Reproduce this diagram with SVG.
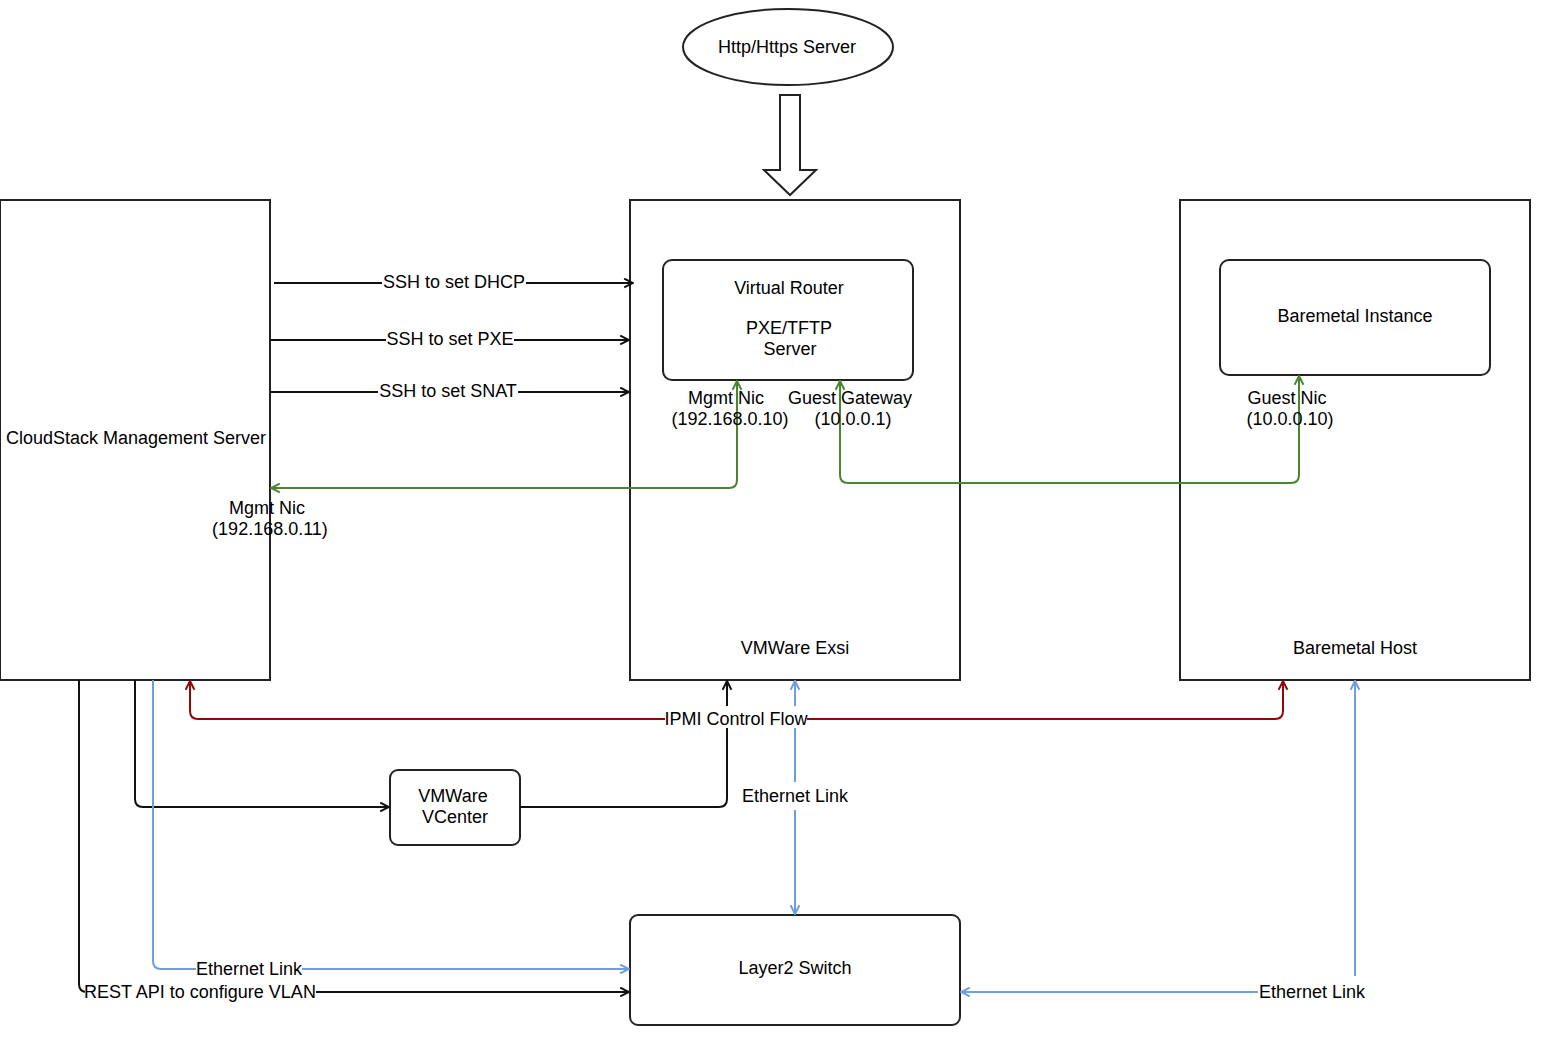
<svg xmlns="http://www.w3.org/2000/svg" width="1550" height="1045" viewBox="0 0 1550 1045">
<style>
text{font-family:"Liberation Sans",Arial,sans-serif;font-size:18px;fill:#000;text-anchor:middle}
.box{fill:#fff;stroke:#222;stroke-width:2}
.k{fill:none;stroke:#111;stroke-width:2}
.g{fill:none;stroke:#4A8531;stroke-width:2}
.r{fill:none;stroke:#8E0A0A;stroke-width:2}
.b{fill:none;stroke:#6E9EE0;stroke-width:2}
.lbl{fill:#fff}
</style>
<defs>
<marker id="ak" viewBox="0 0 10 10" refX="9" refY="5" markerWidth="11" markerHeight="11" markerUnits="userSpaceOnUse" orient="auto-start-reverse"><path d="M1,1 L9,5 L1,9" fill="none" stroke="#111" stroke-width="1.8"/></marker>
<marker id="ag" viewBox="0 0 10 10" refX="9" refY="5" markerWidth="11" markerHeight="11" markerUnits="userSpaceOnUse" orient="auto-start-reverse"><path d="M1,1 L9,5 L1,9" fill="none" stroke="#4A8531" stroke-width="1.8"/></marker>
<marker id="ar" viewBox="0 0 10 10" refX="9" refY="5" markerWidth="11" markerHeight="11" markerUnits="userSpaceOnUse" orient="auto-start-reverse"><path d="M1,1 L9,5 L1,9" fill="none" stroke="#8E0A0A" stroke-width="1.8"/></marker>
<marker id="ab" viewBox="0 0 10 10" refX="9" refY="5" markerWidth="11" markerHeight="11" markerUnits="userSpaceOnUse" orient="auto-start-reverse"><path d="M1,1 L9,5 L1,9" fill="none" stroke="#6E9EE0" stroke-width="1.8"/></marker>
</defs>
<rect width="1550" height="1045" fill="#fff"/>

<g id="http-server">
<ellipse cx="788" cy="47" rx="105" ry="38" class="box"/>
<text x="787" y="53">Http/Https Server</text>
</g>
<g id="block-arrow">
<path d="M780,95 L800,95 L800,170 L816,170 L790,195 L764,170 L780,170 Z" class="box"/>
</g>

<g id="mgmt-server">
<rect x="0" y="200" width="270" height="480" class="box"/>
<text x="136" y="444">CloudStack Management Server</text>
</g>

<g id="vmware-esxi">
<rect x="630" y="200" width="330" height="480" class="box"/>
<text x="795" y="654">VMWare Exsi</text>
</g>

<g id="virtual-router">
<rect x="663" y="260" width="250" height="120" rx="9" class="box"/>
<text x="789" y="294">Virtual Router</text>
<text x="789" y="334">PXE/TFTP</text>
<text x="790" y="355">Server</text>
</g>

<g id="baremetal-host">
<rect x="1180" y="200" width="350" height="480" class="box"/>
<text x="1355" y="654">Baremetal Host</text>
</g>

<g id="baremetal-instance">
<rect x="1220" y="260" width="270" height="115" rx="9" class="box"/>
<text x="1355" y="322">Baremetal Instance</text>
</g>

<g id="vcenter">
<rect x="390" y="770" width="130" height="75" rx="8" class="box"/>
<text x="453" y="802">VMWare</text>
<text x="455" y="823">VCenter</text>
</g>

<g id="layer2-switch">
<rect x="630" y="915" width="330" height="110" rx="8" class="box"/>
<text x="795" y="974">Layer2 Switch</text>
</g>

<g id="connectors">
<path d="M274,283 L633,283" class="k" marker-end="url(#ak)"/>
<path d="M270,340 L629,340" class="k" marker-end="url(#ak)"/>
<path d="M270,392 L629,392" class="k" marker-end="url(#ak)"/>

<path d="M737,381 L737,480 Q737,488 729,488 L271,488" class="g" marker-start="url(#ag)" marker-end="url(#ag)"/>
<path d="M840,381 L840,475 Q840,483 848,483 L1291,483 Q1299,483 1299,475 L1299,376" class="g" marker-start="url(#ag)" marker-end="url(#ag)"/>

<path d="M190,681 L190,711 Q190,719 198,719 L1275,719 Q1283,719 1283,711 L1283,681" class="r" marker-start="url(#ar)" marker-end="url(#ar)"/>

<path d="M135,680 L135,799 Q135,807 143,807 L389,807" class="k" marker-end="url(#ak)"/>
<path d="M520,807 L719,807 Q727,807 727,799 L727,681" class="k" marker-end="url(#ak)"/>

<path d="M795,681 L795,914" class="b" marker-start="url(#ab)" marker-end="url(#ab)"/>

<path d="M153,680 L153,961 Q153,969 161,969 L629,969" class="b" marker-end="url(#ab)"/>

<path d="M79,680 L79,984 Q79,992 87,992 L629,992" class="k" marker-end="url(#ak)"/>

<path d="M1355,681 L1355,992 L961,992" class="b" marker-start="url(#ab)" marker-end="url(#ab)"/>
</g>

<g id="labels">
<rect x="382" y="273" width="144" height="18" class="lbl"/>
<text x="454" y="288">SSH to set DHCP</text>
<rect x="386" y="330" width="128" height="18" class="lbl"/>
<text x="450" y="345">SSH to set PXE</text>
<rect x="378" y="382" width="140" height="18" class="lbl"/>
<text x="448" y="397">SSH to set SNAT</text>

<text x="267" y="514">Mgmt Nic</text>
<text x="270" y="535">(192.168.0.11)</text>
<text x="726" y="404">Mgmt Nic</text>
<text x="730" y="425">(192.168.0.10)</text>
<text x="850" y="404">Guest Gateway</text>
<text x="853" y="425">(10.0.0.1)</text>
<text x="1287" y="404">Guest Nic</text>
<text x="1290" y="425">(10.0.0.10)</text>

<rect x="665" y="706" width="142" height="22" class="lbl"/>
<text x="736" y="725">IPMI Control Flow</text>
<rect x="742" y="782" width="106" height="28" class="lbl"/>
<text x="795" y="802">Ethernet Link</text>
<rect x="196" y="960" width="106" height="18" class="lbl"/>
<text x="249" y="975">Ethernet Link</text>
<rect x="85" y="983" width="231" height="18" class="lbl"/>
<text x="200" y="998">REST API to configure VLAN</text>
<rect x="1258" y="976" width="108" height="26" class="lbl"/>
<text x="1312" y="998">Ethernet Link</text>
</g>
</svg>
